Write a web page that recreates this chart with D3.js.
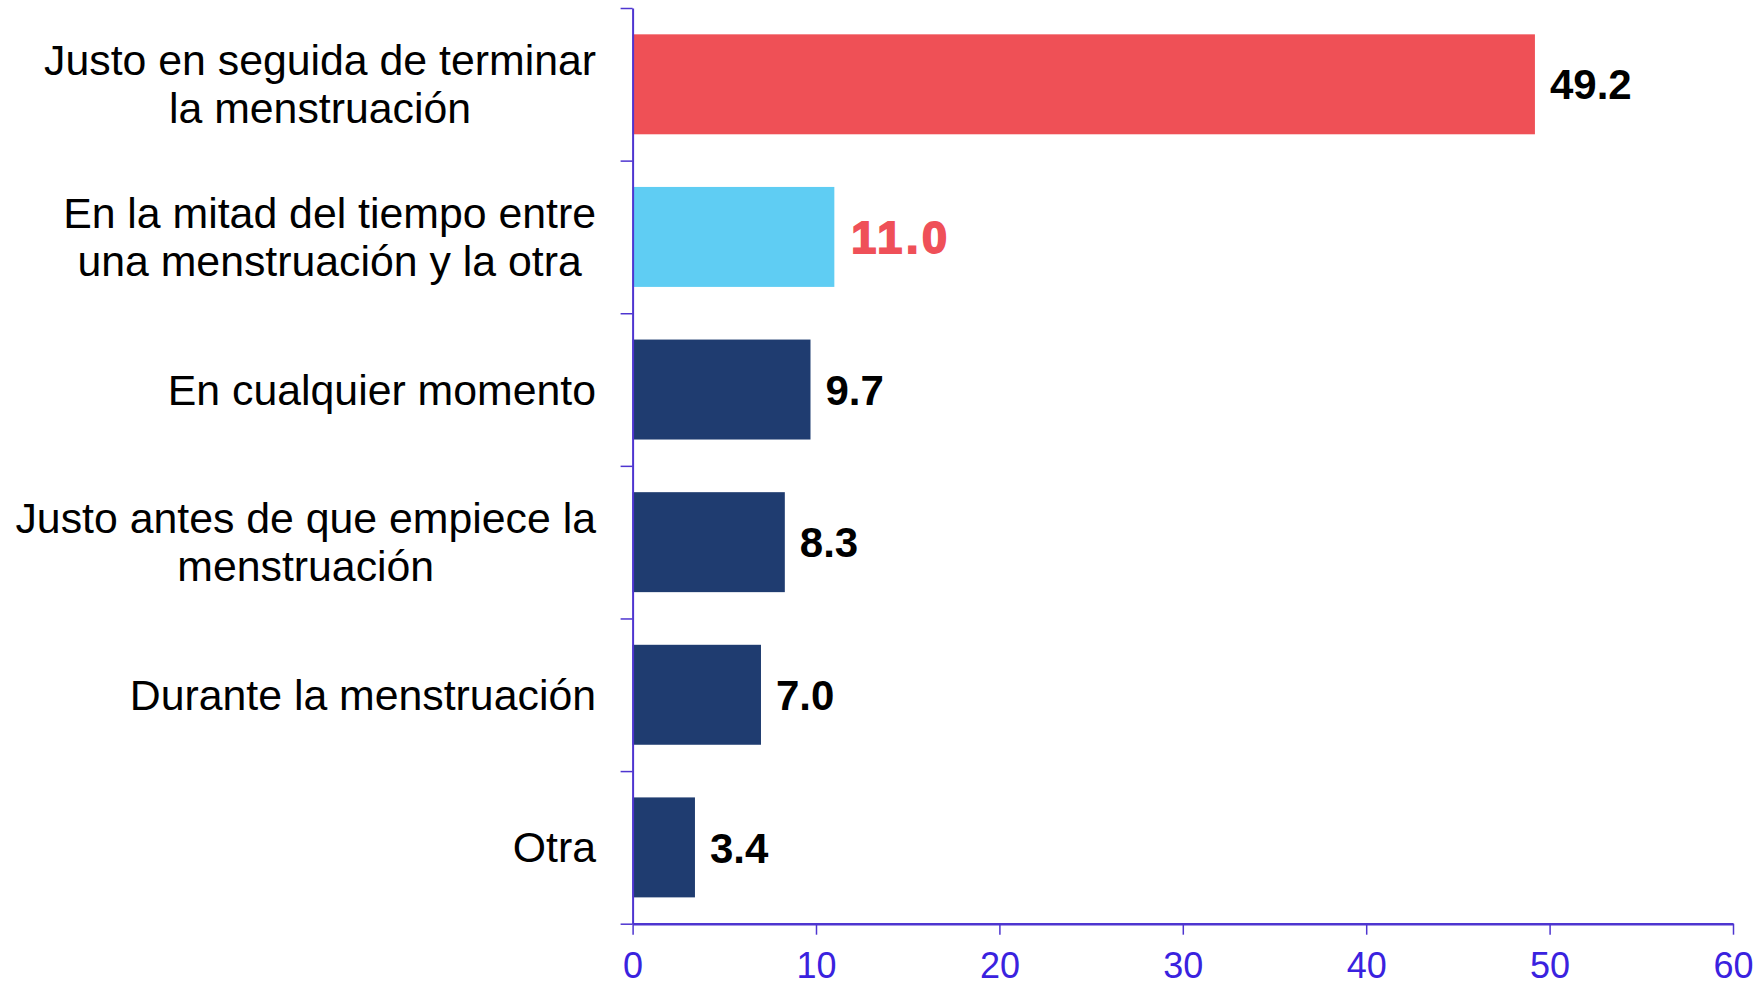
<!DOCTYPE html>
<html>
<head>
<meta charset="utf-8">
<script src="https://cdn.jsdelivr.net/npm/d3@7"></script>
<style>
  html, body { margin: 0; padding: 0; background: #ffffff; }
  svg { display: block; }
</style>
</head>
<body>
<svg id="chart" width="1762" height="986"></svg>
<script>
// ---- data ----
const categories = [
  ["Justo en seguida de terminar", "la menstruación"],
  ["En la mitad del tiempo entre", "una menstruación y la otra"],
  ["En cualquier momento"],
  ["Justo antes de que empiece la", "menstruación"],
  ["Durante la menstruación"],
  ["Otra"]
];
const values = [49.2, 11.0, 9.7, 8.3, 7.0, 3.4];
const valueLabels = ["49.2", "11.0", "9.7", "8.3", "7.0", "3.4"];
const xTicks = [0, 10, 20, 30, 40, 50, 60];

// ---- styling ----
const barColors = ["#EF5056", "#5FCDF3", "#1F3C70", "#1F3C70", "#1F3C70", "#1F3C70"];
const labelColors = ["#000000", "#EF5058", "#000000", "#000000", "#000000", "#000000"];
const axisColor = "#4E35D0";
const tickTextColor = "#3A22DF";

const svg = d3.select("#chart");
const plotLeft = 632.6, plotRight = 1733, plotTop = 8, plotBottom = 923.7;

const x = d3.scaleLinear().domain([0, 60]).range([plotLeft, plotRight]);
const idx = d3.range(categories.length);
const y = d3.scaleBand().domain(idx).range([plotTop, plotBottom])
  .paddingInner(0.345).paddingOuter(0.1725);
const yEdge = d3.scaleLinear().domain([0, categories.length]).range([plotTop, plotBottom]);

// bars
svg.append("g").selectAll("rect").data(values).join("rect")
  .attr("x", x(0))
  .attr("y", (d, i) => y(i))
  .attr("width", d => x(d) - x(0))
  .attr("height", y.bandwidth())
  .attr("fill", (d, i) => barColors[i]);

// value labels
svg.append("g").selectAll("text").data(values).join("text")
  .attr("x", (d, i) => x(d) + (i === 1 ? 17 : 15))
  .attr("y", (d, i) => y(i) + y.bandwidth() / 2)
  .attr("dy", "0.36em")
  .attr("font-family", "'Liberation Sans', Arial, sans-serif")
  .attr("font-weight", "bold")
  .attr("font-size", (d, i) => i === 1 ? 45 : 42)
  .attr("letter-spacing", (d, i) => i === 1 ? 3.5 : 0)
  .attr("fill", (d, i) => labelColors[i])
  .attr("stroke", (d, i) => i === 1 ? labelColors[i] : "none")
  .attr("stroke-width", (d, i) => i === 1 ? 1.8 : 0)
  .text((d, i) => valueLabels[i]);

// y axis (ticks at band boundaries)
const yAxis = d3.axisLeft(yEdge).tickValues(d3.range(categories.length + 1))
  .tickFormat("").tickSize(12).tickSizeOuter(0);
const gy = svg.append("g").attr("transform", `translate(${plotLeft},0)`).call(yAxis);
gy.select(".domain").attr("stroke", axisColor).attr("stroke-width", 2);
gy.selectAll(".tick line").attr("stroke", axisColor).attr("stroke-width", 1.5);

// x axis
const xAxis = d3.axisBottom(x).tickValues(xTicks).tickSize(11).tickSizeOuter(0).tickPadding(18);
const gx = svg.append("g").attr("transform", `translate(0,${plotBottom})`).call(xAxis);
gx.select(".domain").attr("stroke", axisColor).attr("stroke-width", 2.5);
gx.selectAll(".tick line").attr("stroke", axisColor).attr("stroke-width", 1.5);
gx.selectAll(".tick text")
  .attr("fill", tickTextColor)
  .attr("font-family", "'Liberation Sans', Arial, sans-serif")
  .attr("font-size", 36);

// category labels: block right-aligned, lines centered within the block
const labelRight = 596;
const lineH = 48;
const gl = svg.append("g")
  .attr("font-family", "'Liberation Sans', Arial, sans-serif")
  .attr("font-size", 42.8)
  .attr("fill", "#000");
categories.forEach((lines, i) => {
  const cy = y(i) + y.bandwidth() / 2;
  const texts = lines.map((t, k) => gl.append("text")
    .attr("y", cy + (k - (lines.length - 1) / 2) * lineH)
    .attr("dy", "0.35em")
    .attr("text-anchor", "middle")
    .text(t));
  const maxW = d3.max(texts, t => t.node().getComputedTextLength());
  texts.forEach(t => t.attr("x", labelRight - maxW / 2));
});
</script>
</body>
</html>
